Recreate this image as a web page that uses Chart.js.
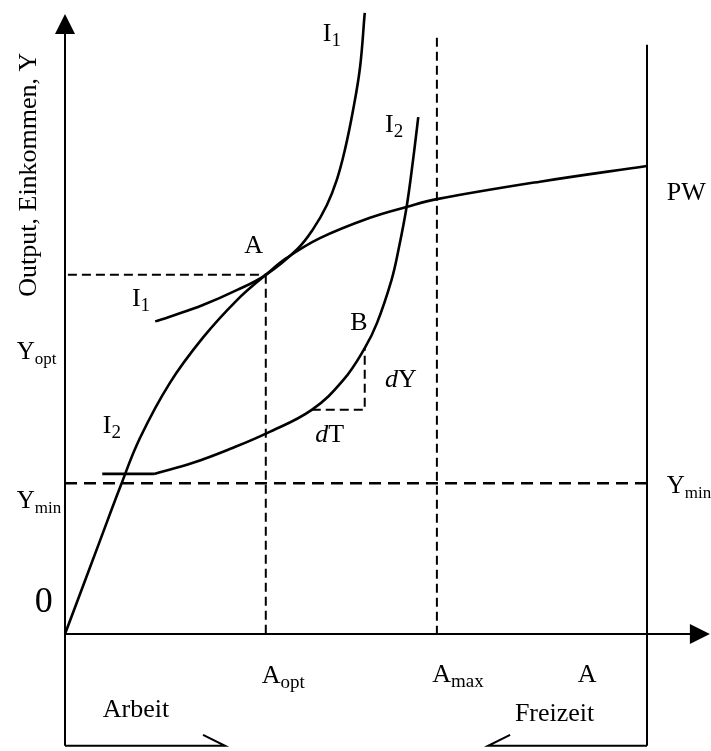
<!DOCTYPE html>
<html>
<head>
<meta charset="utf-8">
<script src="https://cdn.jsdelivr.net/npm/chart.js@4.4.1/dist/chart.umd.min.js"></script>
<style>
  html, body { margin: 0; padding: 0; background: #fff; }
  canvas { display: block; }
</style>
</head>
<body>
<canvas id="chart" width="711" height="751"></canvas>
<script>
// Diagrammeinheiten: Arbeit 0..10 (A), Output 0..10.65 (Y)
const pwX = [0, 0.60, 0.95, 1.29, 1.80, 2.37, 2.96, 3.45, 3.81, 4.38, 5.24, 5.88, 6.39, 8.16, 10];
const pwY = [0, 1.60, 2.53, 3.37, 4.31, 5.09, 5.74, 6.17, 6.46, 6.80, 7.15, 7.34, 7.47, 7.77, 8.04];

const i1X = [1.55, 1.80, 2.37, 2.96, 3.45, 3.99, 4.26, 4.50, 4.67, 4.81, 4.95, 5.07, 5.15];
const i1Y = [5.37, 5.45, 5.65, 5.91, 6.17, 6.61, 6.95, 7.37, 7.80, 8.32, 9.00, 9.74, 10.67];

const i2FlatX = [0.64, 1.53];
const i2FlatY = [2.75, 2.75];
const i2X = [1.53, 2.20, 2.89, 3.47, 4.24, 4.78, 5.15, 5.36, 5.61, 5.73, 5.87, 5.98, 6.07];
const i2Y = [2.75, 2.94, 3.20, 3.45, 3.85, 4.36, 4.91, 5.34, 6.08, 6.60, 7.34, 8.14, 8.88];

const yOpt = 6.17, yMin = 2.59;
const aOpt = 3.45, aMax = 6.39, aTotal = 10;
const bX = 5.15, bY = 4.91, dTStart = 4.24, dTY = 3.85;

const yTop = 10.65, xTip = 11.08, bracketY = -1.92, amaxTop = 10.24, rightTop = 10.12;

const pts = (xs, ys) => xs.map((x, i) => ({ x: x, y: ys[i] }));

function curve(data) {
  return { data: data, showLine: true, pointRadius: 0, borderColor: '#000', borderWidth: 2.6,
           tension: 0.4, clip: false };
}
function dashed(data, dash, w) {
  return { data: data, showLine: true, pointRadius: 0, borderColor: '#000', borderWidth: w || 2,
           borderDash: dash || [9, 5], tension: 0, clip: false };
}

const labels = [
  { t: 'I', s: '1', x: 4.43, y: 10.19 },
  { t: 'I', s: '2', x: 5.50, y: 8.63 },
  { t: 'A', x: 3.08, y: 6.55 },
  { t: 'I', s: '1', x: 1.15, y: 5.64 },
  { t: 'B', x: 4.90, y: 5.22 },
  { d: true, t: 'Y', x: 5.50, y: 4.24 },
  { d: true, t: 'T', x: 4.30, y: 3.30 },
  { t: 'I', s: '2', x: 0.65, y: 3.45 },
  { t: 'PW', x: 10.34, y: 7.46 },
  { t: 'Y', s: 'opt', x: -0.83, y: 4.73, small: true },
  { t: 'Y', s: 'min', x: -0.83, y: 2.16, small: true },
  { t: 'Y', s: 'min', x: 10.34, y: 2.42, small: true },
  { t: 'A', s: 'opt', x: 3.38, y: -0.84 },
  { t: 'A', s: 'max', x: 6.31, y: -0.82 },
  { t: 'A', x: 8.81, y: -0.82 },
  { t: 'Arbeit', x: 0.65, y: -1.43 },
  { t: 'Freizeit', x: 7.73, y: -1.50 }
];

const serif = '"Liberation Serif", "DejaVu Serif", serif';

const drawing = {
  id: 'drawing',
  afterDraw(chart) {
    const ctx = chart.ctx, sx = chart.scales.x, sy = chart.scales.y;
    const px = v => sx.getPixelForValue(v), py = v => sy.getPixelForValue(v);
    ctx.save();
    ctx.strokeStyle = '#000';
    ctx.fillStyle = '#000';
    ctx.lineWidth = 2;
    // Achsen und Klammern unten
    ctx.beginPath();
    ctx.moveTo(px(0), py(bracketY));
    ctx.lineTo(px(0), py(yTop) + 18);
    ctx.moveTo(px(0), py(0));
    ctx.lineTo(px(xTip) - 18, py(0));
    ctx.moveTo(px(0), py(bracketY));
    ctx.lineTo(px(2.75), py(bracketY));
    ctx.lineTo(px(2.75) - 22, py(bracketY) - 11);
    ctx.moveTo(px(aTotal), py(bracketY));
    ctx.lineTo(px(7.27), py(bracketY));
    ctx.lineTo(px(7.27) + 22, py(bracketY) - 11);
    ctx.stroke();
    ctx.beginPath();
    ctx.moveTo(px(0), py(yTop));
    ctx.lineTo(px(0) - 10, py(yTop) + 20);
    ctx.lineTo(px(0) + 10, py(yTop) + 20);
    ctx.closePath();
    ctx.fill();
    ctx.beginPath();
    ctx.moveTo(px(xTip), py(0));
    ctx.lineTo(px(xTip) - 20, py(0) - 10);
    ctx.lineTo(px(xTip) - 20, py(0) + 10);
    ctx.closePath();
    ctx.fill();

    // Beschriftungen
    ctx.textBaseline = 'alphabetic';
    ctx.textAlign = 'left';
    labels.forEach(l => {
      let x = px(l.x);
      const y = py(l.y);
      const big = l.small ? 25 : 26;
      if (l.d) {
        ctx.font = 'italic ' + big + 'px ' + serif;
        ctx.fillText('d', x, y);
        x += ctx.measureText('d').width;
      }
      ctx.font = big + 'px ' + serif;
      ctx.fillText(l.t, x, y);
      if (l.s) {
        x += ctx.measureText(l.t).width;
        ctx.font = (l.small ? 17 : 19) + 'px ' + serif;
        ctx.fillText(l.s, x, y + 5);
      }
    });
    ctx.font = '36px ' + serif;
    ctx.fillText('0', px(-0.52), py(0.38));

    ctx.translate(px(-0.62), py(7.89));
    ctx.rotate(-Math.PI / 2);
    ctx.textAlign = 'center';
    ctx.textBaseline = 'middle';
    ctx.font = '26px ' + serif;
    ctx.fillText('Output, Einkommen, Y', 0, 0);
    ctx.restore();
  }
};

new Chart(document.getElementById('chart'), {
  type: 'scatter',
  data: {
    datasets: [
      curve(pts(pwX, pwY)),
      curve(pts(i1X, i1Y)),
      dashed(pts(i2FlatX, i2FlatY), [], 2.6),
      curve(pts(i2X, i2Y)),
      dashed([{ x: 0.05, y: yOpt }, { x: aOpt, y: yOpt }]),
      dashed([{ x: aOpt, y: yOpt }, { x: aOpt, y: 0 }]),
      dashed([{ x: 0, y: yMin }, { x: aTotal, y: yMin }], [12, 7], 2.5),
      dashed([{ x: aMax, y: amaxTop }, { x: aMax, y: 0 }]),
      dashed([{ x: dTStart, y: dTY }, { x: bX, y: dTY }, { x: bX, y: bY }]),
      dashed([{ x: aTotal, y: bracketY }, { x: aTotal, y: rightTop }], [], 2)
    ]
  },
  options: {
    responsive: false,
    animation: false,
    devicePixelRatio: 1,
    layout: { padding: { left: 65, right: 64, top: 14, bottom: 117 } },
    plugins: { legend: { display: false }, tooltip: { enabled: false } },
    scales: {
      x: { type: 'linear', min: 0, max: aTotal, display: false },
      y: { type: 'linear', min: 0, max: yTop, display: false }
    }
  },
  plugins: [drawing]
});
</script>
</body>
</html>
